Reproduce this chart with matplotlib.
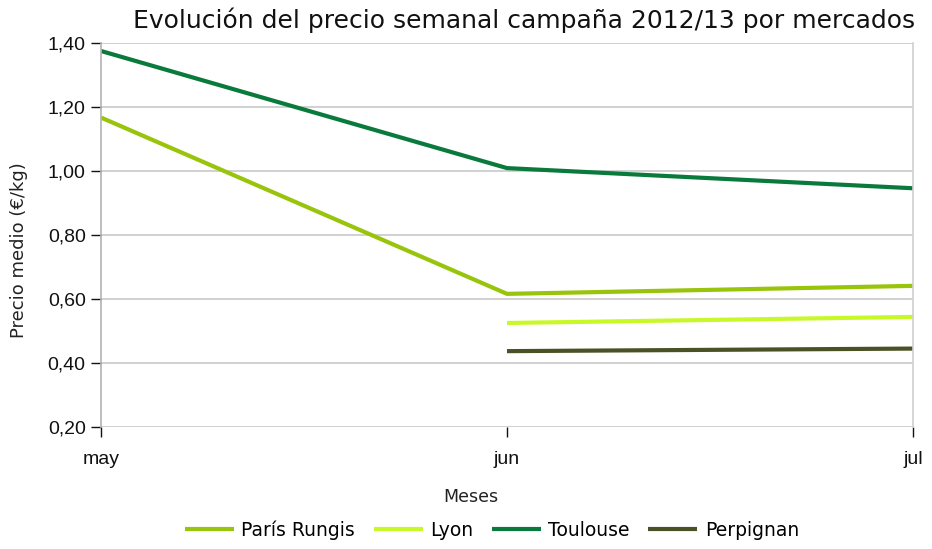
import matplotlib
matplotlib.use("Agg")
import matplotlib.pyplot as plt
import numpy as np

months = ["may", "jun", "jul"]
paris = [1.168, 0.617, 0.642]
lyon = [np.nan, 0.526, 0.545]
toulouse = [1.376, 1.010, 0.947]
perpignan = [np.nan, 0.438, 0.446]

series = [
    ("París Rungis", paris, "#99c40c"),
    ("Lyon", lyon, "#c8f82a"),
    ("Toulouse", toulouse, "#0a7a3c"),
    ("Perpignan", perpignan, "#4a5124"),
]

yticks = [0.2, 0.4, 0.6, 0.8, 1.0, 1.2, 1.4]

W, H = 932, 549
fig = plt.figure(figsize=(W / 100, H / 100), dpi=100)
ax = fig.add_axes([101 / W, 1 - 427.3 / H, (913 - 101) / W, (427.3 - 43.3) / H])

x = np.arange(len(months))
for name, vals, col in series:
    ax.plot(x, vals, color=col, lw=3.0, label=name, solid_capstyle="butt")

ax.set_xlim(0, len(months) - 1)
ax.set_ylim(0.2, 1.4)
ax.set_yticks(yticks)
ax.set_yticklabels([f"{v:.2f}".replace(".", ",") for v in yticks],
                   fontsize=14, family="Liberation Sans")
ax.set_xticks(x)
ax.set_xticklabels(months, fontsize=14, family="Liberation Sans")

ax.grid(axis="y", color="#c8c8c8", lw=1.2)
ax.set_axisbelow(True)
for s in ["top", "bottom"]:
    ax.spines[s].set_visible(False)
ax.spines["left"].set_color("#b3b3b3")
ax.spines["right"].set_color("#d0d0d0")
ax.spines["left"].set_linewidth(1.2)
ax.spines["right"].set_linewidth(1.2)
ax.tick_params(axis="both", length=7, width=1, colors="#111111")
ax.tick_params(axis="y", pad=4)
ax.tick_params(axis="x", pad=10)
for t in ax.get_xticklines() + ax.get_yticklines():
    t.set_color("#b3b3b3")

fig.text(19 / W, 1 - 250 / H, "Precio medio (€/kg)", rotation=90, ha="center", va="center",
         fontsize=13, family="DejaVu Sans", color="#222222")
fig.text(524 / W, 1 - 20 / H, "Evolución del precio semanal campaña 2012/13 por mercados",
         ha="center", va="center", fontsize=18, family="DejaVu Sans", color="#111111")
fig.text(471 / W, 1 - 497 / H, "Meses", ha="center", va="center",
         fontsize=12.5, family="DejaVu Sans", color="#222222")

leg = fig.legend(loc="center", bbox_to_anchor=(492 / W, 1 - 530 / H), ncol=4,
                 frameon=False, prop={"family": "DejaVu Sans", "size": 13.5},
                 handlelength=2.6, handletextpad=0.4, columnspacing=1.0)
for line in leg.get_lines():
    line.set_linewidth(3.0)

fig.savefig("out.png", dpi=100)
